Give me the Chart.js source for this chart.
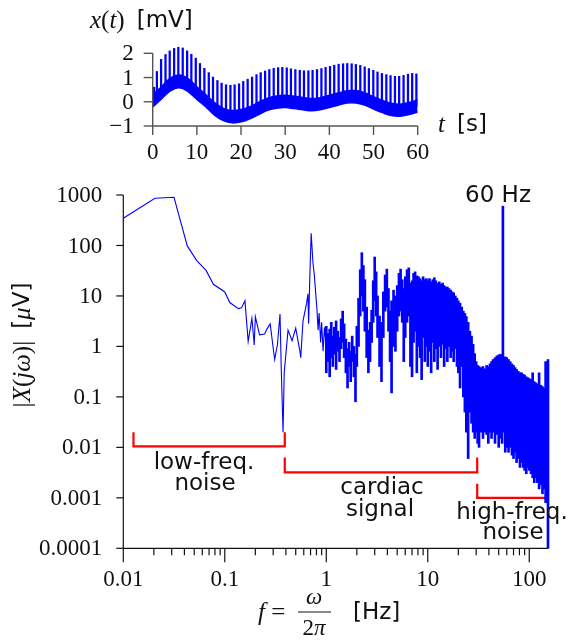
<!DOCTYPE html>
<html>
<head>
<meta charset="utf-8">
<script src="https://cdn.jsdelivr.net/npm/chart.js@4.4.1/dist/chart.umd.min.js"></script>
<style>
  html, body { margin: 0; padding: 0; background: #fff; }
  #wrap { position: relative; width: 570px; height: 641px; }
  canvas { position: absolute; left: 0; top: 0; }
</style>
</head>
<body>
<div id="wrap">
  <canvas id="ecg" width="570" height="170"></canvas>
  <canvas id="spec" width="570" height="641"></canvas>
</div>
<script>
// ---- top panel: x(t) in mV ----
const bandT    = [0,2,4,6,8,10,12,14,16,18,20,22,24,26,28,30,32,34,36,38,40,42,44,46,48,50,52,54,56,58,60];
const bandLow  = [-0.21,0.12,0.45,0.58,0.42,0.1,-0.2,-0.55,-0.78,-0.87,-0.83,-0.7,-0.53,-0.35,-0.27,-0.24,-0.28,-0.33,-0.37,-0.33,-0.24,-0.14,-0.05,-0.05,-0.14,-0.3,-0.45,-0.57,-0.6,-0.53,-0.42];
const bandHigh = [0.3,0.62,0.98,1.1,0.95,0.62,0.3,-0.03,-0.27,-0.36,-0.32,-0.2,-0.02,0.15,0.24,0.27,0.23,0.18,0.13,0.17,0.27,0.36,0.45,0.46,0.37,0.21,0.06,-0.06,-0.1,-0.03,0.08];

const beatT    = [0.3,0.95,1.9,2.9,3.85,4.85,5.8,6.8,7.8,8.75,9.75,10.7,11.7,12.7,13.65,14.65,15.6,16.6,17.6,18.55,
                  19.55,20.5,21.5,22.5,23.5,24.45,25.45,26.4,27.4,28.4,29.35,30.35,31.3,32.3,33.3,34.25,35.25,36.2,37.2,38.2,
                  39.15,40.15,41.1,42.1,43.1,44.05,45.05,46.0,47.0,48.0,48.95,49.95,50.9,51.9,52.9,53.85,54.85,55.8,56.8,57.8,58.75,59.7];
const beatPeak = [0.6,1.25,1.75,1.95,2.1,2.2,2.25,2.22,2.1,1.96,1.8,1.58,1.38,1.2,1.02,0.88,0.77,0.7,0.68,0.7,
                  0.74,0.84,0.93,1.02,1.12,1.2,1.27,1.33,1.38,1.41,1.42,1.4,1.36,1.33,1.3,1.28,1.28,1.3,1.33,1.37,
                  1.42,1.46,1.51,1.55,1.57,1.58,1.57,1.54,1.5,1.44,1.37,1.3,1.23,1.17,1.12,1.08,1.05,1.05,1.09,1.14,1.17,1.15];
const beatBase = [0.1,0.2,0.35,0.52,0.68,0.76,0.82,0.77,0.69,0.55,0.39,0.25,0.1,-0.07,-0.24,-0.37,-0.48,-0.56,-0.6,-0.61,
                  -0.59,-0.55,-0.48,-0.41,-0.32,-0.24,-0.15,-0.08,-0.04,-0.01,0,0,-0.02,-0.04,-0.06,-0.09,-0.11,-0.12,-0.1,-0.07,
                  -0.03,0.02,0.07,0.11,0.16,0.2,0.2,0.2,0.15,0.11,0.04,-0.05,-0.12,-0.19,-0.25,-0.31,-0.33,-0.35,-0.32,-0.29,-0.25,-0.19];

const tTicks   = [0,10,20,30,40,50,60];
const mvTicks  = [-1,0,1,2];
const mvLabels = ['\u22121','0','1','2'];

// ---- bottom panel: |X(jw)| in uV ----
const lowF = [0.01,0.0205,0.0316,0.0427,0.0529,0.0654,0.0772,0.1,0.112,0.136,0.146,0.158,0.17,0.185,0.195,0.2,
              0.22,0.247,0.26,0.28,0.31,0.33,0.35,0.36,0.375,0.385,0.42,0.46,0.5,0.55,0.56,0.59,
              0.64,0.66,0.67,0.69,0.71,0.74,0.76,0.81,0.83,0.85,0.88,0.9,0.93,0.96,0.98,1.0];
const lowV = [345,860,900,98,50,32,17,12,7.4,5.6,5.8,8,1.26,3.6,1.07,3.9,
              1.7,1.76,2.2,2.8,0.55,1.08,4.4,0.37,0.02,0.3,2.1,1.3,2.3,0.8,0.6,3.2,
              7.2,11,2.8,28,175,44,28,5.3,2.1,4.6,1.2,3.0,0.8,2.4,1.5,0.7];

const denseF  = [1.0,1.04,1.08,1.12,1.16,1.2,1.25,1.3,1.35,1.4,1.45,1.5,1.56,1.62,1.68,1.74,1.8,1.87,1.94,2.0,
                 2.08,2.16,2.24,2.32,2.4,2.5,2.6,2.7,2.8,2.9,3.0,3.1,3.2,3.35,3.5,3.65,3.8,3.95,4.1,4.25,
                 4.4,4.6,4.8,5.0,5.2,5.4,5.6,5.8,6.0,6.25,6.5,6.75,7.0,7.25,7.5,7.8,8.1,8.4,8.7,9.0,
                 9.35,9.7,10,10.4,10.8,11.2,11.6,12,12.5,13,13.5,14,14.5,15,15.6,16.2,16.8,17.4,18,18.7,
                 19.4,20,20.8,21.6,22.4,23.2,24,25,26,27,28,29,30,31,32,33.5,35,36.5,38,39.5,
                 41,42.5,44,46,48,50,52,54,55,58,60,62.5,65,67.5,70,72.5,75,78,81,84,
                 87,90,93.5,97,100,104,108,112,116,120,125,130,135,140,145,150,153];
const denseLo = [0.3,0.5,0.25,0.6,0.4,0.7,0.35,0.8,0.5,0.9,1.2,0.6,0.3,0.15,0.4,0.2,0.5,0.25,0.08,0.4,
                 1.0,4,10,5,2,0.6,0.3,0.5,1.2,3,8,4,1.5,0.4,0.2,1.5,5,6,2,0.5,
                 0.12,1,0.8,2,4,5,3,0.5,1.5,3,4,0.4,0.25,1.2,2,0.3,1,0.6,0.22,1.5,
                 0.5,1,0.4,0.8,0.3,1.2,0.5,0.9,0.35,1,0.6,1.1,0.4,0.9,0.5,1,0.6,0.8,0.5,0.9,
                 0.4,0.3,0.15,0.4,0.1,0.05,0.02,0.006,0.05,0.03,0.02,0.015,0.02,0.012,0.01,0.02,0.015,0.02,0.018,0.012,
                 0.02,0.015,0.02,0.012,0.018,0.01,0.015,0.012,0.02,0.008,0.01,0.008,0.01,0.007,0.006,0.008,0.005,0.006,0.004,0.005,
                 0.004,0.0035,0.003,0.004,0.0035,0.003,0.0025,0.002,0.0025,0.002,0.0015,0.0018,0.0012,0.0015,0.0008,0.0012,0.0001];
const denseHi = [2.5,1.8,2.2,3.0,1.6,2.4,3.2,2.0,1.5,3.5,5.0,2.8,1.4,0.9,1.2,0.8,1.6,1.0,0.7,2.5,
                 9,33,72,40,21,6,2.1,3,5.2,20,59,30,10,4,3,12,26,34,14,5,
                 8,13,10,16,28,34,21,14,24,33,36,18,20,28,30,25,24,22,20,24,
                 21,22,20,22,19,21,23,20,18,19,17,18,16,15,15,14,13,12,11.5,10,
                 9,8,7.2,6,5,4.5,3.9,3,2,1.6,1.1,0.72,0.5,0.42,0.4,0.38,0.4,0.36,0.42,0.4,
                 0.45,0.5,0.55,0.6,0.65,0.68,0.7,0.68,600,0.62,0.6,0.55,0.5,0.45,0.42,0.38,0.35,0.32,0.3,0.3,
                 0.28,0.27,0.25,0.24,0.23,0.22,0.3,0.2,0.19,0.18,0.3,0.17,0.16,0.15,0.5,0.14,0.55];

const fTicks    = [0.01,0.1,1,10,100];
const fLabels   = ['0.01','0.1','1','10','100'];
const ampTicks  = [1000,100,10,1,0.1,0.01,0.001,0.0001];
const ampLabels = ['1000','100','10','1','0.1','0.01','0.001','0.0001'];

// red brackets: band edges in Hz, level and tip height in uV
const bandEdges    = [0.0126,0.39,30.7,153];
const bracketLevel = [0.0105,0.0032,0.001];
const bracketTop   = [0.02,0.0063,0.0019];

const BLUE  = '#0000ff';
const SERIF = '"Liberation Serif", "Times New Roman", serif';
const SANS  = '"DejaVu Sans", sans-serif';

function seg(ctx, x1, y1, x2, y2) {
  ctx.beginPath(); ctx.moveTo(x1, y1); ctx.lineTo(x2, y2); ctx.stroke();
}
// draw text made of differently styled runs, starting at x (or centred on x)
function runs(ctx, parts, x, y, centre) {
  let w = 0;
  parts.forEach(([s, f]) => { ctx.font = f; w += ctx.measureText(s).width; });
  let cx = centre ? x - w / 2 : x;
  parts.forEach(([s, f]) => { ctx.font = f; ctx.fillText(s, cx, y); cx += ctx.measureText(s).width; });
}

const ecgAxes = {
  id: 'ecgAxes',
  afterDraw(chart) {
    const {ctx, scales: {x, y}} = chart;
    const x0 = x.getPixelForValue(0), x1 = x.getPixelForValue(60);
    const yb = y.getPixelForValue(-1), yt = y.getPixelForValue(2);
    ctx.save();
    ctx.strokeStyle = '#555';
    ctx.lineWidth = 1.4;
    seg(ctx, x0, yt, x0, yb);
    seg(ctx, x0, yb, x1, yb);
    ctx.fillStyle = '#111';
    ctx.textBaseline = 'middle';
    ctx.font = '23px ' + SERIF;
    ctx.textAlign = 'right';
    mvTicks.forEach((v, i) => {
      const py = y.getPixelForValue(v);
      seg(ctx, x0 - 9, py, x0, py);
      ctx.fillText(mvLabels[i], x0 - 19, py + 1);
    });
    ctx.textAlign = 'center';
    tTicks.forEach(v => {
      const px = x.getPixelForValue(v);
      seg(ctx, px, yb, px, yb + 9);
      ctx.fillText(String(v), px, yb + 27);
    });
    ctx.textAlign = 'left';
    runs(ctx, [['x', 'italic 25px ' + SERIF], ['(', '25px ' + SERIF], ['t', 'italic 25px ' + SERIF],
               [')', '25px ' + SERIF], ['  ', '24px ' + SERIF], ['[mV]', '23px ' + SANS]], 90, 21, false);
    runs(ctx, [['t', 'italic 25px ' + SERIF], ['  ', '24px ' + SERIF], ['[s]', '23px ' + SANS]], 438, 125, false);
    ctx.restore();
  }
};

const specAxes = {
  id: 'specAxes',
  afterDraw(chart) {
    const {ctx, chartArea: a, scales: {x, y}} = chart;
    ctx.save();
    ctx.strokeStyle = '#111';
    ctx.lineWidth = 1.2;
    seg(ctx, a.left, a.top, a.left, a.bottom);
    seg(ctx, a.left, a.bottom, a.right, a.bottom);
    ctx.fillStyle = '#111';
    ctx.textBaseline = 'middle';
    ctx.font = '23px ' + SERIF;
    ctx.textAlign = 'right';
    ampTicks.forEach((v, i) => {
      const py = y.getPixelForValue(v);
      seg(ctx, a.left - 7, py, a.left, py);
      ctx.fillText(ampLabels[i], a.left - 21, py + 1);
    });
    ctx.textAlign = 'center';
    fTicks.forEach((v, i) => {
      const px = x.getPixelForValue(v);
      seg(ctx, px, a.bottom, px, a.bottom + 14);
      ctx.fillText(fLabels[i], px, a.bottom + 32);
      for (let m = 2; m <= 9; m++) {
        if (v * m > x.max) break;
        const pm = x.getPixelForValue(v * m);
        seg(ctx, pm, a.bottom, pm, a.bottom + 7);
      }
    });
    // annotations
    ctx.font = '23px ' + SANS;
    ctx.fillText('60 Hz', 498, 196);
    ctx.fillText('low-freq.', 204, 463);
    ctx.fillText('noise', 205, 484);
    ctx.fillText('cardiac', 382, 488);
    ctx.fillText('signal', 380, 510);
    ctx.fillText('high-freq.', 512, 513);
    ctx.fillText('noise', 513, 533);

    // x title: f = omega / 2 pi [Hz]
    ctx.textAlign = 'left';
    runs(ctx, [['f', 'italic 25px ' + SERIF], [' = ', '25px ' + SERIF]], 258, 613, false);
    ctx.textAlign = 'center';
    ctx.font = 'italic 23px ' + SERIF;
    ctx.fillText('\u03c9', 314, 598);
    ctx.lineWidth = 1;
    seg(ctx, 298, 612, 331, 612);
    ctx.textAlign = 'left';
    runs(ctx, [['2', '23px ' + SERIF], ['\u03c0', 'italic 23px ' + SERIF]], 314, 629, true);
    ctx.font = '23px ' + SANS;
    ctx.fillText('[Hz]', 353, 613);

    // y title
    ctx.translate(23, 345);
    ctx.rotate(-Math.PI / 2);
    runs(ctx, [['|', '25px ' + SERIF], ['X', 'italic 25px ' + SERIF], ['(', '25px ' + SERIF],
               ['j\u03c9', 'italic 25px ' + SERIF], [')', '25px ' + SERIF], ['|', '25px ' + SERIF],
               ['  ', '24px ' + SERIF], ['[', '23px ' + SANS], ['\u03bc', 'italic 25px ' + SERIF],
               ['V]', '23px ' + SANS]], 0, 0, true);
    ctx.restore();
  }
};

const common = {
  responsive: false,
  animation: false,
  events: [],
  plugins: {legend: {display: false}, tooltip: {enabled: false}}
};

new Chart(document.getElementById('ecg'), {
  type: 'line',
  data: {
    datasets: [
      {data: bandT.map((t, i) => ({x: t, y: bandLow[i]})), borderColor: BLUE, borderWidth: 1.5,
       pointRadius: 0, tension: 0.4, fill: false},
      {data: bandT.map((t, i) => ({x: t, y: bandHigh[i]})), borderColor: BLUE, borderWidth: 1.5,
       backgroundColor: BLUE, pointRadius: 0, tension: 0.4, fill: '-1'},
      {type: 'bar', data: beatT.map((t, i) => ({x: t, y: [beatBase[i], beatPeak[i]]})),
       backgroundColor: BLUE, barThickness: 1.6, clip: false}
    ]
  },
  options: {
    ...common,
    layout: {padding: {left: 152.7, right: 152.3, top: 53.3, bottom: 44}},
    scales: {
      x: {type: 'linear', min: 0, max: 60, display: false, offset: false},
      y: {type: 'linear', min: -1, max: 2, display: false}
    }
  },
  plugins: [ecgAxes]
});

const brackets = bracketLevel.map((lv, i) => ({
  data: [
    {x: bandEdges[i], y: bracketTop[i]}, {x: bandEdges[i], y: lv},
    {x: bandEdges[i + 1], y: lv}, {x: bandEdges[i + 1], y: bracketTop[i]}
  ],
  borderColor: '#ff0000', borderWidth: 2.2, pointRadius: 0, fill: false, clip: false
}));

new Chart(document.getElementById('spec'), {
  type: 'line',
  data: {
    datasets: [
      {data: lowF.map((f, i) => ({x: f, y: lowV[i]})), borderColor: BLUE, borderWidth: 1.1,
       pointRadius: 0, fill: false},
      {type: 'bar', data: denseF.map((f, i) => ({x: f, y: [denseLo[i], denseHi[i]]})),
       backgroundColor: BLUE, barThickness: 2, clip: false},
      ...brackets
    ]
  },
  options: {
    ...common,
    layout: {padding: {left: 123.3, right: 22, top: 195, bottom: 92.7}},
    scales: {
      x: {type: 'logarithmic', min: 0.01, max: 153, display: false, offset: false},
      y: {type: 'logarithmic', min: 0.0001, max: 1000, display: false}
    }
  },
  plugins: [specAxes]
});
</script>
</body>
</html>
